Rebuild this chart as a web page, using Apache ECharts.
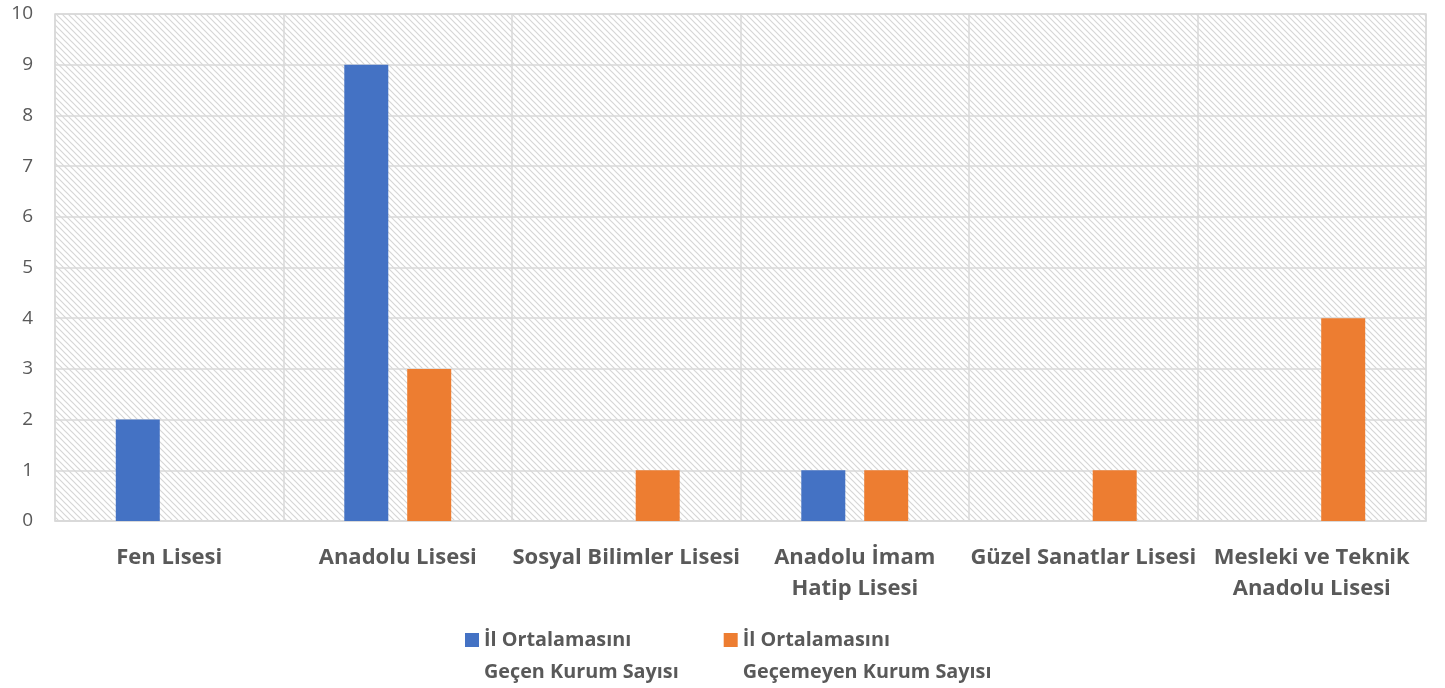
<!DOCTYPE html>
<html>
<head>
<meta charset="utf-8">
<script src="https://cdn.jsdelivr.net/npm/echarts@6/dist/echarts.min.js"></script>
<style>
  html, body { margin: 0; padding: 0; background: #fff; }
</style>
</head>
<body>
<div id="main" style="width: 1445px;height:688px;"></div>
<script>
var categories = ['Fen Lisesi', 'Anadolu Lisesi', 'Sosyal Bilimler Lisesi', 'Anadolu İmam\nHatip Lisesi', 'Güzel Sanatlar Lisesi', 'Mesleki ve Teknik\nAnadolu Lisesi'];
var gecenName = 'İl Ortalamasını\nGeçen Kurum Sayısı';
var gecemeyenName = 'İl Ortalamasını\nGeçemeyen Kurum Sayısı';
var gecen = [2, 9, null, 1, null, null];
var gecemeyen = [null, 3, 1, 1, 1, 4];

// hatch pattern for plot background
function hatch() {
  var s = 6;
  var c = document.createElement('canvas');
  c.width = s; c.height = s;
  var ctx = c.getContext('2d');
  ctx.fillStyle = '#fff';
  ctx.fillRect(0, 0, s, s);
  ctx.strokeStyle = '#d6d6d6';
  ctx.lineWidth = 1.2;
  ctx.beginPath();
  ctx.moveTo(-1, -1); ctx.lineTo(s + 1, s + 1);
  ctx.moveTo(-1, s - 1); ctx.lineTo(1, s + 1);
  ctx.moveTo(s - 1, -1); ctx.lineTo(s + 1, 1);
  ctx.stroke();
  return c;
}

var myChart = echarts.init(document.getElementById('main'));
var font = '"Open Sans", sans-serif';
var option = {
  animation: false,
  color: ['#4472C4', '#ED7D31'],
  grid: {
    left: 55, right: 19, top: 14, bottom: 167,
    show: true,
    borderColor: '#d9d9d9',
    borderWidth: 1.5,
    backgroundColor: { image: hatch(), repeat: 'repeat' }
  },
  legend: {
    top: 592,
    left: 465,
    padding: 0,
    itemWidth: 14,
    itemHeight: 14,
    itemGap: 45,
    icon: 'rect',
    // leading empty line puts the marker next to the first text line
    formatter: function (name) { return '\n' + name; },
    textStyle: {
      fontFamily: font, fontSize: 19.8, fontWeight: 'bold', color: '#595959',
      lineHeight: 32
    },
    data: [gecenName, gecemeyenName]
  },
  xAxis: {
    type: 'category',
    data: categories,
    axisLine: { show: true, lineStyle: { color: '#d9d9d9', width: 1.5 } },
    axisTick: { show: false },
    splitLine: { show: true, lineStyle: { color: '#d9d9d9', width: 1.5 } },
    axisLabel: {
      interval: 0, margin: 21,
      fontFamily: font, fontSize: 22, fontWeight: 'bold', color: '#595959', lineHeight: 31
    }
  },
  yAxis: {
    type: 'value',
    min: 0, max: 10, interval: 1,
    axisLine: { show: false },
    axisTick: { show: false },
    splitLine: { lineStyle: { color: '#d9d9d9', width: 1.5 } },
    axisLabel: { margin: 22, fontFamily: font, fontSize: 19, color: '#595959' }
  },
  series: [
    { name: gecenName, type: 'bar', data: gecen, barWidth: 44, barGap: '43%' },
    { name: gecemeyenName, type: 'bar', data: gecemeyen, barWidth: 44, barGap: '43%' }
  ]
};
myChart.setOption(option);
</script>
</body>
</html>
